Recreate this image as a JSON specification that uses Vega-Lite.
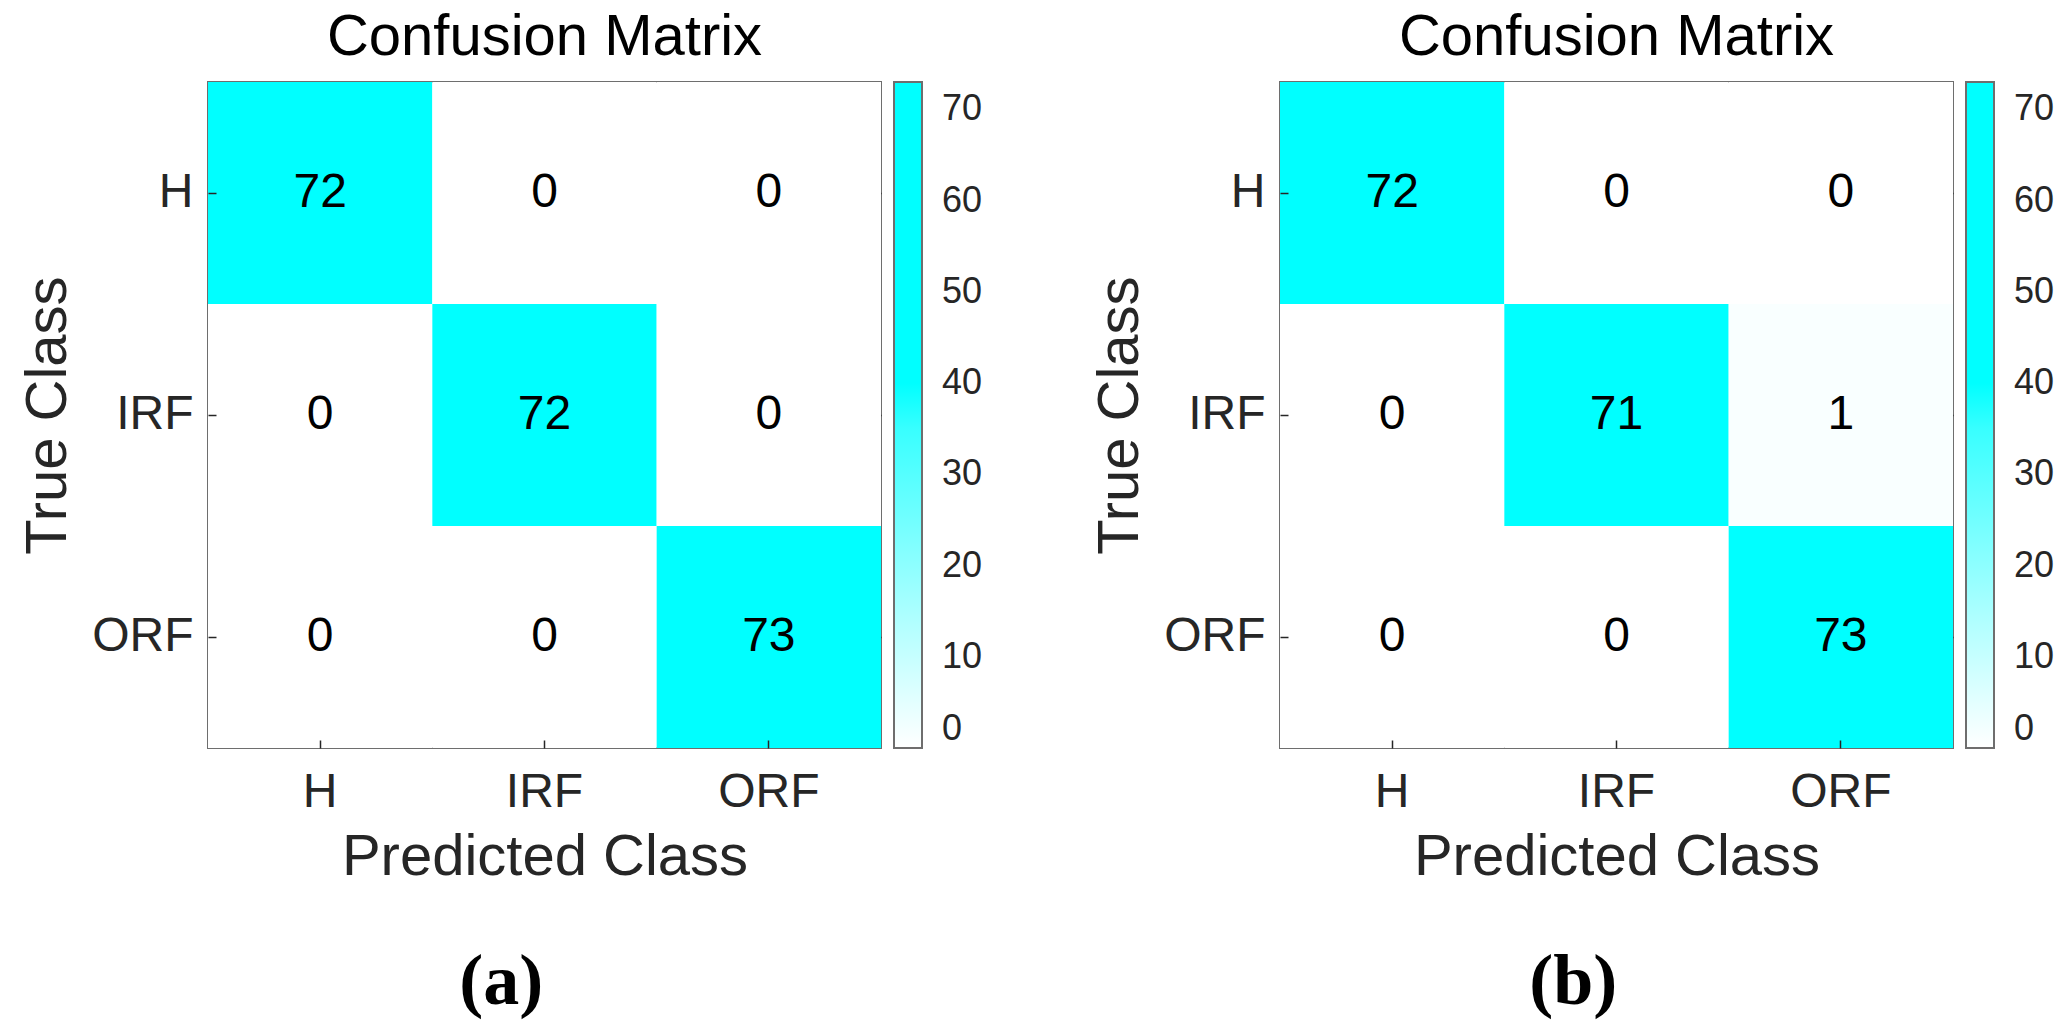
{
  "$schema": "https://vega.github.io/schema/vega-lite/v6.json",
  "background": "white",
  "padding": {"left": 18, "top": 8, "right": 5, "bottom": 5},
  "datasets": {
    "a": [
      {"actual": "H", "predicted": "H", "count": 72},
      {"actual": "H", "predicted": "IRF", "count": 0},
      {"actual": "H", "predicted": "ORF", "count": 0},
      {"actual": "IRF", "predicted": "H", "count": 0},
      {"actual": "IRF", "predicted": "IRF", "count": 72},
      {"actual": "IRF", "predicted": "ORF", "count": 0},
      {"actual": "ORF", "predicted": "H", "count": 0},
      {"actual": "ORF", "predicted": "IRF", "count": 0},
      {"actual": "ORF", "predicted": "ORF", "count": 73}
    ],
    "b": [
      {"actual": "H", "predicted": "H", "count": 72},
      {"actual": "H", "predicted": "IRF", "count": 0},
      {"actual": "H", "predicted": "ORF", "count": 0},
      {"actual": "IRF", "predicted": "H", "count": 0},
      {"actual": "IRF", "predicted": "IRF", "count": 71},
      {"actual": "IRF", "predicted": "ORF", "count": 1},
      {"actual": "ORF", "predicted": "H", "count": 0},
      {"actual": "ORF", "predicted": "IRF", "count": 0},
      {"actual": "ORF", "predicted": "ORF", "count": 73}
    ]
  },
  "config": {
    "font": "Liberation Sans",
    "view": {"stroke": "#6e6e6e", "strokeWidth": 2},
    "axis": {
      "domain": false,
      "grid": false,
      "labelAngle": 0,
      "labelFontSize": 48,
      "labelColor": "#262626",
      "titleFontSize": 58,
      "titleFontWeight": "normal",
      "titleColor": "#262626",
      "tickColor": "#262626",
      "tickWidth": 1.5
    },
    "concat": {"spacing": 106}
  },
  "resolve": {"scale": {"color": "independent"}},
  "hconcat": [
    {
      "title": {"text": "(a)", "orient": "bottom", "anchor": "middle", "frame": "bounds", "font": "Liberation Serif", "fontSize": 72, "fontWeight": "bold", "color": "black", "offset": 60},
      "resolve": {"scale": {"color": "independent"}},
      "vconcat": [
        {
          "title": {"text": "Confusion Matrix", "fontSize": 58, "fontWeight": "normal", "color": "black", "offset": 14},
          "width": 673,
          "height": 666,
          "data": {"name": "a"},
          "layer": [
            {
              "mark": {"type": "rect"},
              "encoding": {
                "x": {"field": "predicted", "type": "nominal", "sort": ["H", "IRF", "ORF"], "axis": {"orient": "bottom", "title": "Predicted Class", "tickSize": -8, "labelPadding": 28, "titlePadding": 12}},
                "y": {"field": "actual", "type": "nominal", "sort": ["H", "IRF", "ORF"], "axis": {"orient": "left", "title": "True Class", "tickSize": -8, "labelPadding": 23, "titlePadding": 14}},
                "color": {
                  "field": "count",
                  "type": "quantitative",
                  "scale": {"domain": [0, 37, 37.01, 73], "range": ["#ffffff", "#2dffff", "#00ffff", "#00ffff"], "interpolate": "rgb"},
                  "legend": {"title": null, "direction": "vertical", "gradientLength": 666, "gradientThickness": 28, "gradientStrokeColor": "#6e6e6e", "gradientStrokeWidth": 2, "labelFontSize": 36, "labelColor": "#262626", "values": [0, 10, 20, 30, 40, 50, 60, 70], "offset": 12, "labelOffset": 20, "labelOverlap": false, "padding": 0, "labelBaseline": "middle"}
                }
              }
            },
            {
              "mark": {"type": "text", "fontSize": 48, "color": "black"},
              "encoding": {
                "x": {"field": "predicted", "type": "nominal", "sort": ["H", "IRF", "ORF"], "axis": {"orient": "top", "title": null, "labels": false, "tickSize": -8}},
                "y": {"field": "actual", "type": "nominal", "sort": ["H", "IRF", "ORF"], "axis": {"orient": "right", "title": null, "labels": false, "tickSize": -8}},
                "text": {"field": "count", "type": "quantitative"}
              }
            }
          ],
          "resolve": {"axis": {"x": "independent", "y": "independent"}}
        }
      ]
    },
    {
      "title": {"text": "(b)", "orient": "bottom", "anchor": "middle", "frame": "bounds", "font": "Liberation Serif", "fontSize": 72, "fontWeight": "bold", "color": "black", "offset": 60},
      "resolve": {"scale": {"color": "independent"}},
      "vconcat": [
        {
          "title": {"text": "Confusion Matrix", "fontSize": 58, "fontWeight": "normal", "color": "black", "offset": 14},
          "width": 673,
          "height": 666,
          "data": {"name": "b"},
          "layer": [
            {
              "mark": {"type": "rect"},
              "encoding": {
                "x": {"field": "predicted", "type": "nominal", "sort": ["H", "IRF", "ORF"], "axis": {"orient": "bottom", "title": "Predicted Class", "tickSize": -8, "labelPadding": 28, "titlePadding": 12}},
                "y": {"field": "actual", "type": "nominal", "sort": ["H", "IRF", "ORF"], "axis": {"orient": "left", "title": "True Class", "tickSize": -8, "labelPadding": 23, "titlePadding": 14}},
                "color": {
                  "field": "count",
                  "type": "quantitative",
                  "scale": {"domain": [0, 37, 37.01, 73], "range": ["#ffffff", "#2dffff", "#00ffff", "#00ffff"], "interpolate": "rgb"},
                  "legend": {"title": null, "direction": "vertical", "gradientLength": 666, "gradientThickness": 28, "gradientStrokeColor": "#6e6e6e", "gradientStrokeWidth": 2, "labelFontSize": 36, "labelColor": "#262626", "values": [0, 10, 20, 30, 40, 50, 60, 70], "offset": 12, "labelOffset": 20, "labelOverlap": false, "padding": 0, "labelBaseline": "middle"}
                }
              }
            },
            {
              "mark": {"type": "text", "fontSize": 48, "color": "black"},
              "encoding": {
                "x": {"field": "predicted", "type": "nominal", "sort": ["H", "IRF", "ORF"], "axis": {"orient": "top", "title": null, "labels": false, "tickSize": -8}},
                "y": {"field": "actual", "type": "nominal", "sort": ["H", "IRF", "ORF"], "axis": {"orient": "right", "title": null, "labels": false, "tickSize": -8}},
                "text": {"field": "count", "type": "quantitative"}
              }
            }
          ],
          "resolve": {"axis": {"x": "independent", "y": "independent"}}
        }
      ]
    }
  ]
}
